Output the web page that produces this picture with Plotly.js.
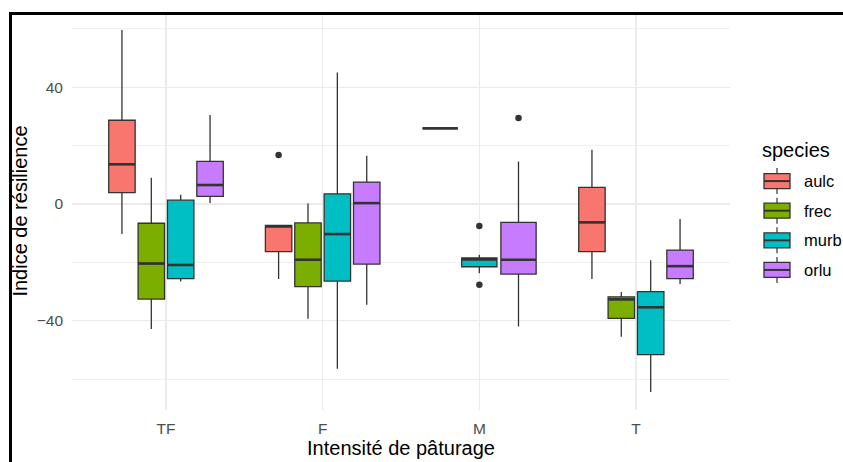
<!DOCTYPE html>
<html><head><meta charset="utf-8">
<script src="https://cdn.plot.ly/plotly-3.0.1.min.js"></script>
<style>
html,body{margin:0;padding:0;background:#fff;}
#wrap{position:relative;width:843px;height:462px;overflow:hidden;}
#chart{width:843px;height:462px;}
.fr{position:absolute;background:#000;}
</style>
</head><body>
<div id="wrap"><div id="chart"></div>
<div class="fr" style="left:9px;top:12px;width:834px;height:3px"></div>
<div class="fr" style="left:9px;top:12px;width:3px;height:450px"></div>
</div>
<script>
// ---- data ----
const categories = ['TF', 'F', 'M', 'T'];
const species = ['aulc', 'frec', 'murb', 'orlu'];
const colors = ['#F8766D', '#7CAE00', '#00BFC4', '#C77CFF'];

// per category [TF, F, M, T]; null = species absent
const aulc_lower  = [-10.3, -25.7, 25.9, -25.7];
const aulc_q1     = [3.9, -16.3, 25.9, -16.3];
const aulc_median = [13.6, -7.7, 25.9, -6.3];
const aulc_q3     = [28.7, -7.3, 25.9, 5.7];
const aulc_upper  = [59.6, -7.3, 25.9, 18.6];
const aulc_out    = [[], [16.8], [], []];

const frec_lower  = [-42.8, -39.3, null, -45.5];
const frec_q1     = [-32.6, -28.3, null, -39.2];
const frec_median = [-20.4, -19.1, null, -32.7];
const frec_q3     = [-6.6, -6.5, null, -31.8];
const frec_upper  = [9.0, 0.2, null, -30.2];
const frec_out    = [[], [], [], []];

const murb_lower  = [-26.6, -56.5, -23.7, -64.4];
const murb_q1     = [-25.6, -26.4, -21.5, -51.6];
const murb_median = [-20.9, -10.3, -19.0, -35.4];
const murb_q3     = [1.3, 3.5, -18.5, -30.0];
const murb_upper  = [3.2, 45.1, -17.4, -19.3];
const murb_out    = [[], [], [-7.5, -27.7], []];

const orlu_lower  = [0.3, -34.5, -42.0, -27.4];
const orlu_q1     = [2.6, -20.6, -24.0, -25.6];
const orlu_median = [6.5, 0.3, -19.1, -21.3];
const orlu_q3     = [14.6, 7.5, -6.3, -15.8];
const orlu_upper  = [30.5, 16.5, 14.6, -5.1];
const orlu_out    = [[], [], [29.5], []];

const S = [
  {lower: aulc_lower, q1: aulc_q1, median: aulc_median, q3: aulc_q3, upper: aulc_upper, out: aulc_out},
  {lower: frec_lower, q1: frec_q1, median: frec_median, q3: frec_q3, upper: frec_upper, out: frec_out},
  {lower: murb_lower, q1: murb_q1, median: murb_median, q3: murb_q3, upper: murb_upper, out: murb_out},
  {lower: orlu_lower, q1: orlu_q1, median: orlu_median, q3: orlu_q3, upper: orlu_upper, out: orlu_out}
];

// ---- layout constants ----
const FONT = 'Liberation Sans, Arial, sans-serif';
const LINE = '#333333';
const DODGE = 0.75, PAD = 0.9;
const W = 843, H = 462;
const M = {l: 72, r: 113, t: 11.5, b: 51.5};
const PW = W - M.l - M.r, PH = H - M.t - M.b;
const px2x = x => (x - M.l) / PW;
const px2y = y => (H - M.b - y) / PH;

const traces = [];
categories.forEach((cat, ci) => {
  const present = species.map((s, si) => si).filter(si => S[si].median[ci] !== null);
  const n = present.length;
  present.forEach((si, j) => {
    const d = S[si];
    const pos = ci + 1 + DODGE * (-0.5 + (j + 0.5) / n);
    const w = DODGE * PAD / n;
    traces.push({
      type: 'box', orientation: 'v', x: [pos],
      q1: [d.q1[ci]], median: [d.median[ci]], q3: [d.q3[ci]],
      lowerfence: [d.lower[ci]], upperfence: [d.upper[ci]],
      width: w, fillcolor: colors[si], line: {color: LINE, width: 1.3},
      whiskerwidth: 0, boxpoints: false, showlegend: false, hoverinfo: 'skip'
    });
    traces.push({
      type: 'scatter', mode: 'lines', x: [pos - w / 2, pos + w / 2],
      y: [d.median[ci], d.median[ci]], line: {color: LINE, width: 2.6},
      showlegend: false, hoverinfo: 'skip'
    });
    if (d.out[ci].length) {
      traces.push({
        type: 'scatter', mode: 'markers', x: d.out[ci].map(() => pos), y: d.out[ci],
        marker: {color: LINE, size: 6.5}, showlegend: false, hoverinfo: 'skip'
      });
    }
  });
});

// ---- custom ggplot-like legend ----
const shapes = [], annotations = [];
const LEG = {x0: 764, x1: 790, y0: 181, step: 29.7, bh: 15, wh: 13, tx: 802, titleY: 150, titleX: 760};
annotations.push({xref: 'paper', yref: 'paper', x: px2x(LEG.titleX), y: px2y(LEG.titleY),
  xanchor: 'left', yanchor: 'middle', showarrow: false, text: 'species',
  font: {family: FONT, size: 20, color: '#000'}});
species.forEach((s, i) => {
  const cy = LEG.y0 + i * LEG.step;
  const cx = (LEG.x0 + LEG.x1) / 2;
  shapes.push({type: 'line', xref: 'paper', yref: 'paper', x0: px2x(cx), x1: px2x(cx),
    y0: px2y(cy - LEG.wh), y1: px2y(cy + LEG.wh), line: {color: LINE, width: 1.2}});
  shapes.push({type: 'rect', xref: 'paper', yref: 'paper', x0: px2x(LEG.x0), x1: px2x(LEG.x1),
    y0: px2y(cy - LEG.bh / 2), y1: px2y(cy + LEG.bh / 2), fillcolor: colors[i], line: {color: LINE, width: 1.3}});
  shapes.push({type: 'line', xref: 'paper', yref: 'paper', x0: px2x(LEG.x0), x1: px2x(LEG.x1),
    y0: px2y(cy), y1: px2y(cy), line: {color: LINE, width: 2}});
  annotations.push({xref: 'paper', yref: 'paper', x: px2x(LEG.tx), y: px2y(cy),
    xanchor: 'left', yanchor: 'middle', showarrow: false, text: s,
    font: {family: FONT, size: 16.5, color: '#000'}});
});

const layout = {
  width: W, height: H, margin: M,
  paper_bgcolor: '#fff', plot_bgcolor: '#fff',
  showlegend: false,
  font: {family: FONT},
  xaxis: {
    type: 'linear', range: [0.4, 4.6], tickvals: [1, 2, 3, 4], ticktext: categories,
    showgrid: true, gridcolor: '#EBEBEB', gridwidth: 1.2, zeroline: false, showline: false,
    ticks: '', tickfont: {family: FONT, size: 15.5, color: '#4D4D4D'}, ticklabelstandoff: 7,
    title: {text: 'Intensité de pâturage', font: {family: FONT, size: 20, color: '#000'}, standoff: 4},
    automargin: false, fixedrange: true
  },
  yaxis: {
    range: [-70.6, 65.8], tick0: 0, dtick: 40,
    showgrid: true, gridcolor: '#EBEBEB', gridwidth: 1.2, zeroline: false, showline: false,
    minor: {tick0: 0, dtick: 20, showgrid: true, gridcolor: '#EFEFEF', gridwidth: 1, ticks: ''},
    ticks: '', tickfont: {family: FONT, size: 15.5, color: '#4D4D4D'}, ticklabelstandoff: 8,
    title: {text: 'Indice de résilience', font: {family: FONT, size: 20, color: '#000'}, standoff: 3},
    automargin: false, fixedrange: true
  },
  shapes: shapes, annotations: annotations
};

Plotly.newPlot('chart', traces, layout, {staticPlot: true, displayModeBar: false});
</script>
</body></html>
